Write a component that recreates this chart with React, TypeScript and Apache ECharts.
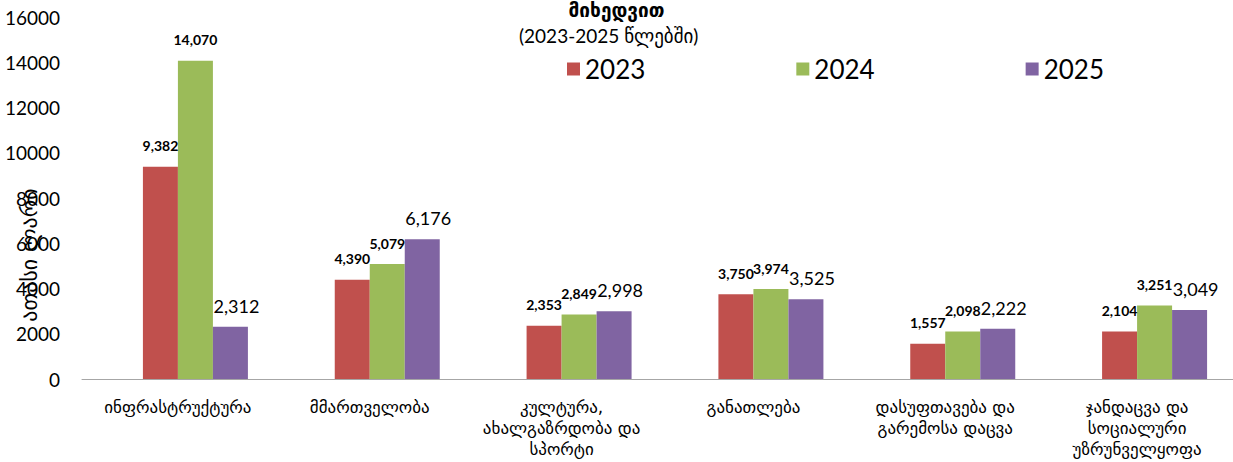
import React, { useEffect, useRef } from "react";
import * as echarts from "echarts";

const categories = [
  "ინფრასტრუქტურა",
  "მმართველობა",
  "კულტურა,\nახალგაზრდობა და\nსპორტი",
  "განათლება",
  "დასუფთავება და\nგარემოსა დაცვა",
  "ჯანდაცვა და\nსოციალური\nუზრუნველყოფა",
];
const years = ["2023", "2024", "2025"];
const values2023 = [9382, 4390, 2353, 3750, 1557, 2104];
const values2024 = [14070, 5079, 2849, 3974, 2098, 3251];
const values2025 = [2312, 6176, 2998, 3525, 2222, 3049];
const yTicks = { min: 0, max: 16000, interval: 2000 };

const FONT = "Lato, 'DejaVu Sans', sans-serif";
const GEO = "'DejaVu Sans', sans-serif";
const fmt = (p: any) => Number(p.value).toLocaleString("en-US");

export default function App() {
  const ref = useRef<HTMLDivElement>(null);
  useEffect(() => {
    if (!ref.current) return;
    const chart = echarts.init(ref.current, undefined, { renderer: "svg" });
    const boldLabel = {
      show: true,
      position: "top",
      distance: 14,
      formatter: fmt,
      fontFamily: FONT,
      fontWeight: "bold",
      fontSize: 14,
      color: "#000",
    };
    chart.setOption({
      animation: false,
      backgroundColor: "#fff",
      textStyle: { fontFamily: FONT },
      grid: { left: 82, right: -10, top: 17, bottom: 83, containLabel: false },
      legend: {
        data: years,
        left: 567,
        top: 56,
        padding: 0,
        itemWidth: 13,
        itemHeight: 13,
        icon: "rect",
        itemGap: 151,
        textStyle: { fontFamily: FONT, fontSize: 26, color: "#000" },
      },
      graphic: [
        {
          type: "text",
          left: "center",
          top: 0,
          style: { text: "მიხედვით", font: `bold 19px ${GEO}`, fill: "#000" },
        },
        {
          type: "text",
          left: 519,
          top: 26,
          style: { text: "(2023-2025 წლებში)", font: `19px ${FONT}`, fill: "#000" },
        },
        {
          type: "text",
          x: 29,
          y: 255,
          rotation: Math.PI / 2,
          style: {
            text: "ათასი ლარი",
            font: `22px ${GEO}`,
            fill: "#000",
            align: "center",
            verticalAlign: "middle",
          },
        },
      ],
      xAxis: {
        type: "category",
        data: categories,
        axisLine: { show: true, lineStyle: { color: "#a6a6a6", width: 1 } },
        axisTick: { show: false },
        axisLabel: {
          interval: 0,
          margin: 17,
          fontFamily: GEO,
          fontSize: 17,
          lineHeight: 21,
          color: "#000",
          align: "center",
        },
      },
      yAxis: {
        type: "value",
        min: yTicks.min,
        max: yTicks.max,
        interval: yTicks.interval,
        axisLine: { show: false },
        axisTick: { show: false },
        splitLine: { show: false },
        axisLabel: {
          fontFamily: FONT,
          fontSize: 19,
          color: "#000",
          margin: 22,
          formatter: (v: number) => String(v),
        },
      },
      series: [
        {
          name: "",
          type: "bar",
          barWidth: 35,
          barGap: 0,
          data: categories.map(() => null),
        },
        {
          name: years[0],
          type: "bar",
          barWidth: 35,
          barGap: 0,
          itemStyle: { color: "#C0504D" },
          label: boldLabel,
          data: values2023,
        },
        {
          name: years[1],
          type: "bar",
          barWidth: 35,
          barGap: 0,
          itemStyle: { color: "#9BBB59" },
          label: boldLabel,
          data: values2024,
        },
        {
          name: years[2],
          type: "bar",
          barWidth: 35,
          barGap: 0,
          itemStyle: { color: "#8064A2" },
          label: {
            show: true,
            position: "top",
            distance: 12,
            offset: [6, 0],
            formatter: fmt,
            fontFamily: FONT,
            fontSize: 18,
            color: "#000",
          },
          data: values2025,
        },
      ],
    });
    return () => chart.dispose();
  }, []);
  return (
    <div
      ref={ref}
      style={{ position: "fixed", left: 0, top: 0, width: 1233, height: 462, background: "#fff" }}
    />
  );
}
